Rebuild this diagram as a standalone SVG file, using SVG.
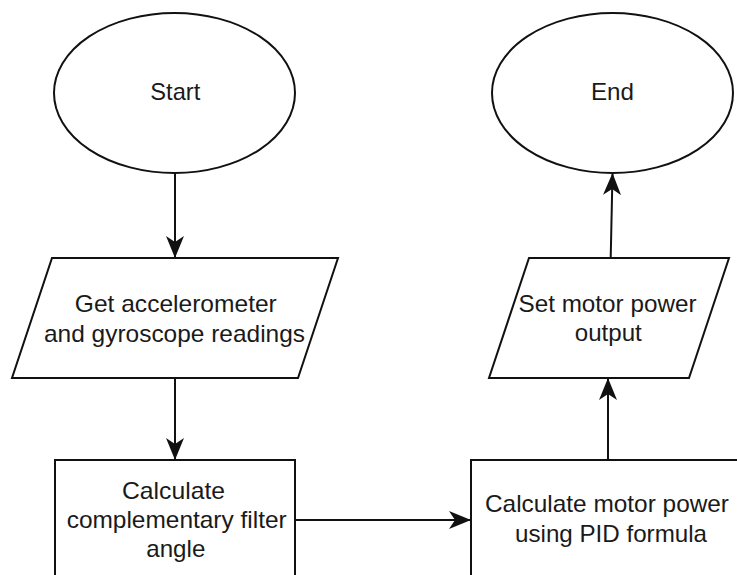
<svg xmlns="http://www.w3.org/2000/svg" width="737" height="575" viewBox="0 0 737 575">
<style>
.shape{fill:#fff;stroke:#111;stroke-width:2}
.lbl{font-family:"Liberation Sans",Arial,sans-serif;font-size:24px;fill:#1a1a1a;text-anchor:middle}
.edge{fill:none;stroke:#111;stroke-width:2}
</style>
<defs>
<marker id="arr" markerUnits="userSpaceOnUse" viewBox="0 0 22 18" refX="21" refY="9" markerWidth="22" markerHeight="18" orient="auto">
<path d="M0,0 L22,9 L0,18 L6,9 Z" fill="#111"/>
</marker>
</defs>
<rect width="737" height="575" fill="#fff"/>
<g id="connectors">
<line class="edge" x1="175" y1="173" x2="175" y2="257" marker-end="url(#arr)"/>
<line class="edge" x1="175" y1="378" x2="175" y2="459" marker-end="url(#arr)"/>
<line class="edge" x1="295" y1="520" x2="470" y2="520" marker-end="url(#arr)"/>
<line class="edge" x1="608" y1="460" x2="608" y2="379" marker-end="url(#arr)"/>
<line class="edge" x1="610.7" y1="258" x2="612.5" y2="174" marker-end="url(#arr)"/>
</g>
<g id="start">
<ellipse class="shape" cx="174.5" cy="93" rx="120.5" ry="80"/>
<text class="lbl" x="175.3" y="100" textLength="50" lengthAdjust="spacingAndGlyphs">Start</text>
</g>
<g id="end">
<ellipse class="shape" cx="612.5" cy="93" rx="120.5" ry="80"/>
<text class="lbl" x="612.5" y="100" textLength="43" lengthAdjust="spacingAndGlyphs">End</text>
</g>
<g id="get-readings">
<polygon class="shape" points="52,258 338,258 298,378 12,378"/>
<text class="lbl" x="175.8" y="312" textLength="202" lengthAdjust="spacingAndGlyphs">Get accelerometer</text>
<text class="lbl" x="174.5" y="342" textLength="261" lengthAdjust="spacingAndGlyphs">and gyroscope readings</text>
</g>
<g id="set-output">
<polygon class="shape" points="529,258 729,258 689,378 489,378"/>
<text class="lbl" x="607.5" y="312" textLength="178" lengthAdjust="spacingAndGlyphs">Set motor power</text>
<text class="lbl" x="608.3" y="341" textLength="67" lengthAdjust="spacingAndGlyphs">output</text>
</g>
<g id="calc-angle">
<rect class="shape" x="55" y="460" width="240" height="125"/>
<text class="lbl" x="173.5" y="499" textLength="103" lengthAdjust="spacingAndGlyphs">Calculate</text>
<text class="lbl" x="176.7" y="528" textLength="220" lengthAdjust="spacingAndGlyphs">complementary filter</text>
<text class="lbl" x="175.8" y="557" textLength="59" lengthAdjust="spacingAndGlyphs">angle</text>
</g>
<g id="calc-power">
<rect class="shape" x="471" y="460" width="280" height="125"/>
<text class="lbl" x="607" y="512" textLength="244" lengthAdjust="spacingAndGlyphs">Calculate motor power</text>
<text class="lbl" x="611" y="541.5" textLength="192" lengthAdjust="spacingAndGlyphs">using PID formula</text>
</g>
</svg>
